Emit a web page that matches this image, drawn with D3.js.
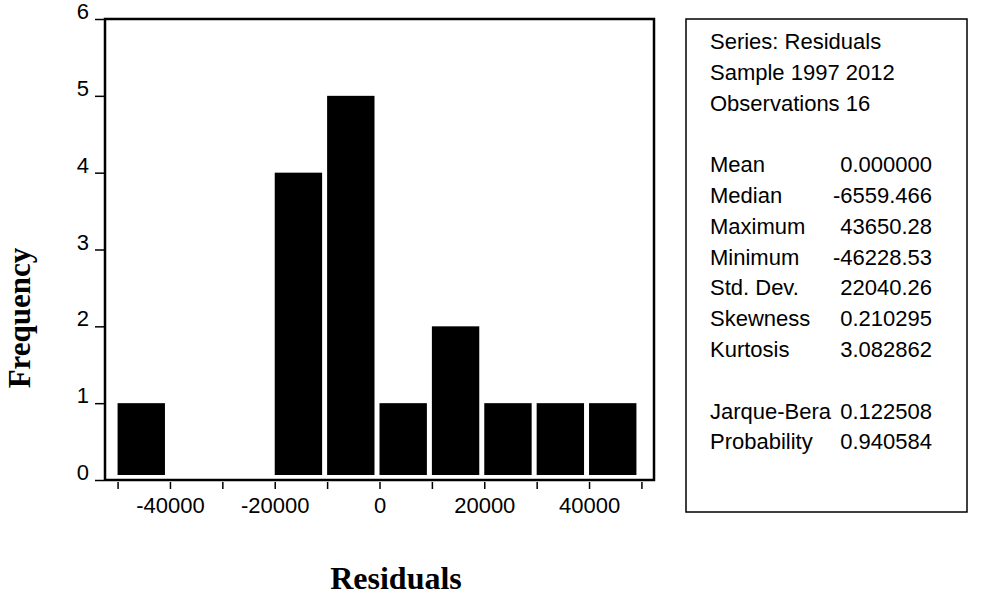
<!DOCTYPE html>
<html><head><meta charset="utf-8">
<script src="https://cdn.jsdelivr.net/npm/d3@7"></script>
<style>body{margin:0;background:#fff}</style>
</head><body>
<svg id="c" width="995" height="598"></svg>
<script>
const binStarts = [-50000,-40000,-30000,-20000,-10000,0,10000,20000,30000,40000];
const binWidth = 10000;
const counts = [1,0,0,4,5,1,2,1,1,1];
const xTickValues = [-50000,-40000,-30000,-20000,-10000,0,10000,20000,30000,40000,50000];
const xTickLabels = ["","-40000","","-20000","","0","","20000","","40000",""];
const yTickValues = [0,1,2,3,4,5,6];
const statLabels = ["Series: Residuals","Sample 1997 2012","Observations 16","","Mean","Median","Maximum","Minimum","Std. Dev.","Skewness","Kurtosis","","Jarque-Bera","Probability"];
const statValues = ["","","","","0.000000","-6559.466","43650.28","-46228.53","22040.26","0.210295","3.082862","","0.122508","0.940584"];

const svg = d3.select("#c");
const L=105,R=654,T=19,B=480;
const x = d3.scaleLinear().domain([-52400,52400]).range([L,R]);
const y = d3.scaleLinear().domain([0,6]).range([B,T]);
const font = "'Liberation Sans', Arial, sans-serif";

// bars
svg.append("g").selectAll("rect").data(binStarts).join("rect")
  .attr("x",(d)=>x(d))
  .attr("width",(d)=>x(d+binWidth)-x(d)-5)
  .attr("y",(d,i)=>y(counts[i]))
  .attr("height",(d,i)=>Math.max(0,y(0)-5-y(counts[i])))
  .attr("fill",(d,i)=>counts[i]>0?"#000":"none");

// frame
svg.append("rect").attr("x",L).attr("y",T).attr("width",R-L).attr("height",B-T)
  .attr("fill","none").attr("stroke","#000").attr("stroke-width",2.5);

// x axis
const xAxis = d3.axisBottom(x).tickValues(xTickValues).tickSize(7).tickPadding(8)
  .tickFormat((d,i)=>xTickLabels[i]);
const gx = svg.append("g").attr("transform",`translate(0,${B+2})`).call(xAxis);
gx.select(".domain").remove();
gx.selectAll("line").attr("stroke","#000").attr("stroke-width",1.5);
gx.selectAll("text").attr("font-family",font).attr("font-size",22).attr("fill","#000");

// y axis
const yAxis = d3.axisLeft(y).tickValues(yTickValues).tickSize(9).tickPadding(6).tickFormat(d3.format("d"));
const gy = svg.append("g").attr("transform",`translate(${L-1},0)`).call(yAxis);
gy.select(".domain").remove();
gy.selectAll("line").attr("stroke","#000").attr("stroke-width",1.5);
gy.selectAll("text").attr("font-family",font).attr("font-size",22).attr("fill","#000")
  .attr("dy","-0.02em");

// axis titles
svg.append("text").attr("x",396).attr("y",589).attr("text-anchor","middle")
  .attr("font-family","'Liberation Serif','Times New Roman',serif").attr("font-weight","bold")
  .attr("font-size",32).text("Residuals");
svg.append("text").attr("transform","translate(30,318) rotate(-90)").attr("text-anchor","middle")
  .attr("font-family","'Liberation Serif','Times New Roman',serif").attr("font-weight","bold")
  .attr("font-size",31).text("Frequency");

// stats box
svg.append("rect").attr("x",686).attr("y",19).attr("width",281).attr("height",493)
  .attr("fill","none").attr("stroke","#000").attr("stroke-width",1.5);
const rowY = (i)=>49 + i*30.8;
svg.append("g").selectAll("text").data(statLabels).join("text")
  .attr("x",710).attr("y",(d,i)=>rowY(i)).attr("font-family",font).attr("font-size",22).text(d=>d);
svg.append("g").selectAll("text").data(statValues).join("text")
  .attr("x",932).attr("y",(d,i)=>rowY(i)).attr("text-anchor","end").attr("font-family",font).attr("font-size",22).text(d=>d);
</script>
</body></html>
